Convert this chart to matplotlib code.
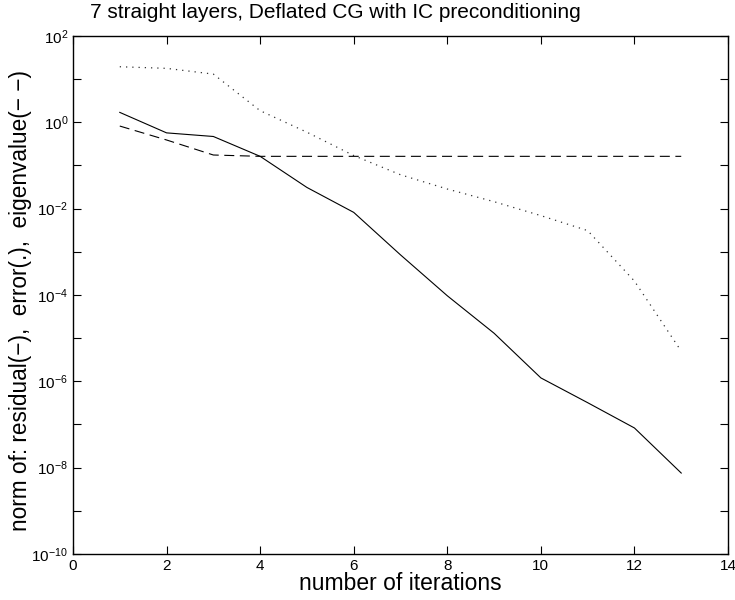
import matplotlib
matplotlib.use('Agg')
from matplotlib import pyplot as plt
from matplotlib.ticker import FixedLocator, FixedFormatter

plt.rcParams['font.family'] = ['Liberation Sans', 'DejaVu Sans']
plt.rcParams['mathtext.fontset'] = 'custom'
plt.rcParams['mathtext.rm'] = 'Liberation Sans'
plt.rcParams['mathtext.it'] = 'Liberation Sans'

iterations = [1, 2, 3, 4, 5, 6, 7, 8, 9, 10, 11, 12, 13]
residual = [1.70, 0.57, 0.47, 0.163, 0.031, 0.0082, 8.5e-4, 9.6e-5, 1.3e-5,
            1.2e-6, 3.2e-7, 8.3e-8, 7.5e-9]
error = [19.4, 17.8, 13.1, 1.86, 0.59, 0.17, 0.061, 0.0285, 0.0145,
         0.0069, 0.0031, 2.1e-4, 5e-6]
eigenvalue = [0.82, 0.39, 0.175, 0.163, 0.163, 0.163, 0.163, 0.163, 0.163,
              0.163, 0.163, 0.163, 0.163]

fig = plt.figure(figsize=(7.35, 6), dpi=100)
ax = fig.add_axes([0.0993, 0.0767, 0.8912, 0.8633])

ax.semilogy(iterations, residual, color='black', lw=0.8)
ax.semilogy(iterations, error, color='#333333', lw=0.9, linestyle=(0, (1, 4)))
ax.semilogy(iterations, eigenvalue, color='black', lw=0.8, linestyle=(0, (9, 5)))

ax.set_xlim(0, 14)
ax.set_ylim(1e-10, 1e2)
ax.set_xticks(range(0, 15, 2))
exps = list(range(-10, 3))
ax.yaxis.set_major_locator(FixedLocator([10.0 ** e for e in exps]))
ax.yaxis.set_major_formatter(FixedFormatter(
    ['$10^{%d}$' % e if e % 2 == 0 else '' for e in exps]))
ax.yaxis.set_minor_locator(FixedLocator([]))
ax.tick_params(direction='in', top=True, right=True, length=6, width=0.8,
               labelsize=11)
for s in ax.spines.values():
    s.set_linewidth(1.0)

ax.set_xlabel('number of iterations', fontsize=16.5)
ax.xaxis.set_label_coords(0.5, -0.035)
ax.set_ylabel('norm of: residual(\u2212),  error(.),  eigenvalue(\u2212 \u2212)',
              fontsize=16.3)
ax.yaxis.set_label_coords(-0.0626, 0.49)
fig.text(0.456, 0.979, '7 straight layers, Deflated CG with IC preconditioning',
         fontsize=15, ha='center', va='center')

plt.savefig('out.png', dpi=100)
